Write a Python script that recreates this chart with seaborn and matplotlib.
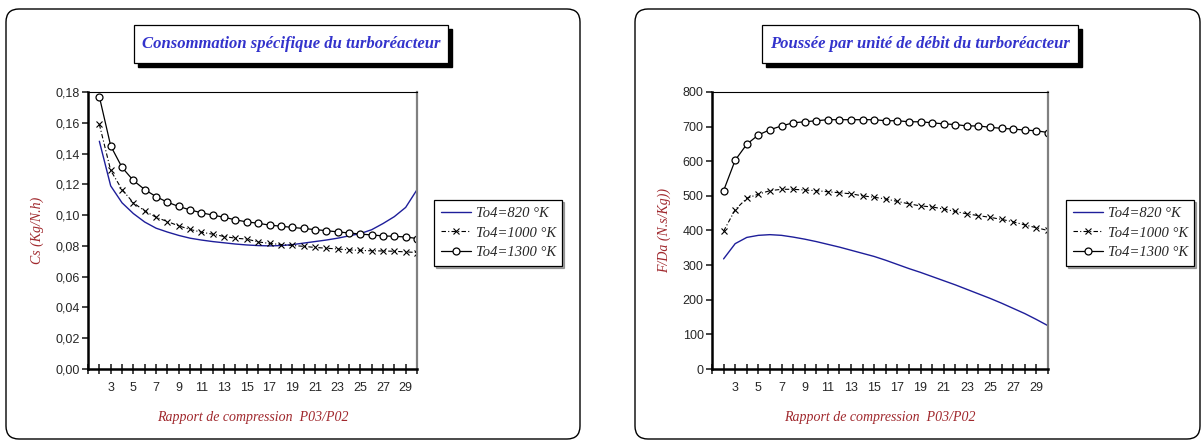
import matplotlib
matplotlib.use("Agg")
import matplotlib.pyplot as plt
import seaborn as sns
from matplotlib.patches import FancyBboxPatch, Rectangle
from matplotlib.ticker import FuncFormatter

# ── data ────────────────────────────────────────────────────────────────────
x_ratio = list(range(2, 31))
labels = ["To4=820 °K", "To4=1000 °K", "To4=1300 °K"]

cs_820 = [0.148, 0.119, 0.108, 0.101, 0.0955, 0.0915, 0.089, 0.0868, 0.085,
          0.0838, 0.0828, 0.082, 0.0812, 0.0806, 0.0802, 0.080, 0.0802, 0.0808,
          0.0818, 0.0828, 0.0838, 0.085, 0.0865, 0.088, 0.0905, 0.0945, 0.099,
          0.105, 0.1165]
cs_1000 = [0.159, 0.129, 0.1166, 0.108, 0.1027, 0.0986, 0.0958, 0.093, 0.0907,
           0.0889, 0.0876, 0.0861, 0.085, 0.0844, 0.0826, 0.0816, 0.0809, 0.0803,
           0.0797, 0.079, 0.0785, 0.078, 0.0774, 0.0771, 0.0768, 0.0767, 0.0765,
           0.0761, 0.0757]
cs_1300 = [0.177, 0.145, 0.131, 0.1225, 0.1166, 0.112, 0.1084, 0.1056, 0.1034,
           0.1015, 0.100, 0.0986, 0.0969, 0.0956, 0.0947, 0.0935, 0.0928, 0.092,
           0.0913, 0.0906, 0.0899, 0.0891, 0.0884, 0.0877, 0.0871, 0.0865, 0.0862,
           0.0858, 0.0848]

f_820 = [318, 362, 380, 386, 388, 386, 381, 375, 368, 360, 352, 343, 334, 325,
         314, 302, 290, 279, 267, 255, 243, 230, 217, 204, 190, 175, 160, 143, 125]
f_1000 = [398, 460, 493, 505, 515, 519, 519, 517, 515, 512, 509, 506, 500, 496,
          491, 484, 477, 471, 468, 462, 455, 448, 443, 438, 432, 425, 416, 408, 400]
f_1300 = [515, 603, 649, 676, 691, 702, 711, 714, 717, 720, 720, 720, 720, 720,
          717, 717, 714, 714, 711, 708, 706, 702, 702, 698, 695, 693, 690, 688, 683]

x_ticks = list(range(1, 31))
x_ticklabels = [str(t) if (t % 2 == 1 and t > 1) else "" for t in x_ticks]

# ── style ───────────────────────────────────────────────────────────────────
sns.set_style("white")
plt.rcParams["font.family"] = ["Liberation Sans", "DejaVu Sans"]

BLUE_TITLE = "#3333CC"
RED_LABEL = "#A0282D"
BLUE_LINE = "#1E1E9A"
W, H = 1203, 440

fig = plt.figure(figsize=(W / 100, H / 100), dpi=100)

# background layer in pixel coordinates for the rounded panels and title boxes
bg = fig.add_axes([0, 0, 1, 1], zorder=-1)
bg.set_xlim(0, W)
bg.set_ylim(H, 0)
bg.axis("off")

for x0, x1 in [(6, 580), (635, 1200)]:
    bg.add_patch(FancyBboxPatch((x0, 9), x1 - x0, 430,
                                boxstyle="round,pad=0,rounding_size=13",
                                fc="white", ec="black", lw=1.0))

titles = [("Consommation spécifique du turboréacteur", 134, 448),
          ("Poussée par unité de débit du turboréacteur", 762, 1078)]
for txt, x0, x1 in titles:
    bg.add_patch(Rectangle((x0 + 4, 29), x1 - x0, 38, fc="black", ec="black"))
    bg.add_patch(Rectangle((x0, 25), x1 - x0, 38, fc="white", ec="black", lw=0.9))
    bg.text((x0 + x1) / 2, 44, txt, ha="center", va="center", color=BLUE_TITLE,
            fontsize=12, fontweight="bold", fontstyle="italic",
            family="Liberation Serif")


def style_axes(ax, ylim, yticks, fmt, ylabel, legend_x):
    ax.set_xlim(1, 30)
    ax.set_ylim(*ylim)
    ax.set_xticks(x_ticks)
    ax.set_xticklabels(x_ticklabels)
    ax.set_yticks(yticks)
    ax.yaxis.set_major_formatter(FuncFormatter(fmt))
    ax.tick_params(axis="x", direction="inout", length=7, width=1.2,
                   labelsize=9, pad=6, bottom=True)
    ax.tick_params(axis="y", direction="out", length=4, width=1.2,
                   labelsize=9, pad=2, left=True)
    for side in ["left", "bottom"]:
        ax.spines[side].set_color("black")
        ax.spines[side].set_linewidth(1.8)
    ax.spines["top"].set_color("black")
    ax.spines["top"].set_linewidth(0.8)
    ax.spines["right"].set_color("#808080")
    ax.spines["right"].set_linewidth(1.6)
    ax.set_xlabel("Rapport de compression  P03/P02", color=RED_LABEL,
                  fontsize=10, fontstyle="italic", family="Liberation Serif",
                  labelpad=12)
    ax.set_ylabel(ylabel, color=RED_LABEL, fontsize=10, fontstyle="italic",
                  family="Liberation Serif", labelpad=8)
    leg = ax.legend(loc="upper left", bbox_to_anchor=(legend_x, 1 - 200 / H),
                    bbox_transform=fig.transFigure, borderaxespad=0,
                    prop=dict(family="Liberation Serif", style="italic", size=10.5),
                    frameon=True, fancybox=False, edgecolor="black",
                    handlelength=2.1, handletextpad=0.3, labelspacing=0.45,
                    borderpad=0.45, shadow=dict(color="#555555", ox=1.5, oy=-1.5))
    leg.get_frame().set_linewidth(0.9)


def draw_series(ax, s820, s1000, s1300):
    sns.lineplot(x=x_ratio, y=s820, ax=ax, color=BLUE_LINE, lw=1.0,
                 label=labels[0])
    sns.lineplot(x=x_ratio, y=s1000, ax=ax, color="black", lw=0.8,
                 ls=(0, (4, 2, 1, 2)), marker="x", markersize=4,
                 markeredgecolor="black", markeredgewidth=0.8,
                 label=labels[1])
    sns.lineplot(x=x_ratio, y=s1300, ax=ax, color="black", lw=0.9,
                 marker="o", markersize=5, markerfacecolor="white",
                 markeredgecolor="black", markeredgewidth=0.9,
                 label=labels[2])


bottom = 1 - 369 / H
height = 277 / H

# ── left: specific consumption ──────────────────────────────────────────────
ax1 = fig.add_axes([88 / W, bottom, (417 - 88) / W, height])
draw_series(ax1, cs_820, cs_1000, cs_1300)
style_axes(ax1, (0, 0.18), [i * 0.02 for i in range(10)],
           lambda v, p: f"{v:.2f}".replace(".", ","), "Cs (Kg/N.h)", 434 / W)

# ── right: specific thrust ──────────────────────────────────────────────────
ax2 = fig.add_axes([712 / W, bottom, (1048 - 712) / W, height])
draw_series(ax2, f_820, f_1000, f_1300)
style_axes(ax2, (0, 800), list(range(0, 801, 100)),
           lambda v, p: f"{v:.0f}", "F/Da (N.s/Kg))", 1066 / W)

plt.savefig("out.png", dpi=100)
plt.close()
